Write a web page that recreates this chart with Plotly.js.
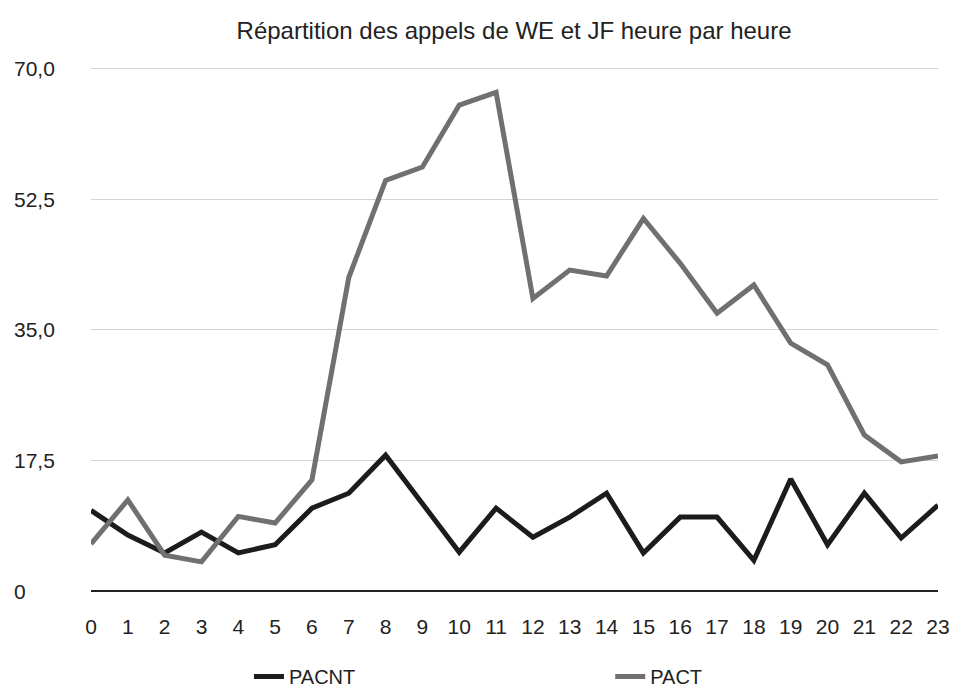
<!DOCTYPE html>
<html>
<head>
<meta charset="utf-8">
<script src="https://cdn.plot.ly/plotly-3.0.1.min.js"></script>
<style>html,body{margin:0;padding:0;background:#fff;}#chart{width:956px;height:691px;}</style>
</head>
<body>
<div id="chart"></div>
<script>
const hours = ["0","1","2","3","4","5","6","7","8","9","10","11","12","13","14","15","16","17","18","19","20","21","22","23"];
const pacnt = [10.8, 7.5, 5.1, 7.9, 5.1, 6.2, 11.1, 13.1, 18.2, 11.8, 5.2, 11.1, 7.2, 9.9, 13.1, 5.1, 9.9, 9.9, 4.1, 15.0, 6.2, 13.1, 7.1, 11.5];
const pact  = [6.3, 12.2, 4.8, 3.9, 10.0, 9.1, 14.9, 42.0, 55.0, 56.8, 65.1, 66.8, 39.2, 43.0, 42.2, 49.9, 43.9, 37.2, 41.0, 33.2, 30.3, 20.9, 17.3, 18.1];
const yTickVals = [0, 17.5, 35, 52.5, 70];
const yTickText = ["0", "17,5", "35,0", "52,5", "70,0"];
const seriesNames = ["PACNT", "PACT"];
const titleText = "Répartition des appels de WE et JF heure par heure";

const font = "Liberation Sans, Arial, sans-serif";
const xIdx = hours.map((h, i) => i);

const traces = [
  {x: xIdx, y: pacnt, name: seriesNames[0], type: "scatter", mode: "lines",
   line: {color: "#1c1c1c", width: 5}, cliponaxis: false, legend: "legend"},
  {x: xIdx, y: pact, name: seriesNames[1], type: "scatter", mode: "lines",
   line: {color: "#707070", width: 5}, cliponaxis: false, legend: "legend2"}
];

const annotations = yTickVals.map((v, i) => ({
  x: -0.093, xref: "paper", xanchor: "left",
  y: v, yref: "y", yanchor: "middle",
  text: yTickText[i], showarrow: false,
  font: {family: font, size: 21, color: "#222"}
}));

const legendFont = {family: font, size: 20, color: "#222"};

const layout = {
  width: 956, height: 691,
  margin: {l: 91, r: 18, t: 67, b: 100},
  paper_bgcolor: "#fff", plot_bgcolor: "#fff",
  title: {text: titleText, x: 0.5377, xanchor: "center", y: 0.956, yanchor: "middle",
          font: {family: font, size: 24, color: "#222"}},
  xaxis: {range: [0, 23], tickvals: xIdx, ticktext: hours, showgrid: false,
          zeroline: false, showline: false, ticks: "", ticklabelstandoff: 21,
          tickfont: {family: font, size: 21, color: "#222"}, fixedrange: true},
  yaxis: {range: [0, 70.2], tickvals: yTickVals, showticklabels: false,
          showgrid: true, gridcolor: "#d4d4d4", gridwidth: 1,
          zeroline: true, zerolinecolor: "#222", zerolinewidth: 2, fixedrange: true},
  showlegend: true,
  legend: {orientation: "h", x: 0.1865, xanchor: "left", xref: "paper",
           y: 0.021, yref: "container", yanchor: "middle",
           font: legendFont, bgcolor: "rgba(0,0,0,0)"},
  legend2: {orientation: "h", x: 0.613, xanchor: "left", xref: "paper",
           y: 0.021, yref: "container", yanchor: "middle",
           font: legendFont, bgcolor: "rgba(0,0,0,0)"},
  annotations: annotations
};

Plotly.newPlot("chart", traces, layout, {displayModeBar: false, staticPlot: true});
</script>
</body>
</html>
